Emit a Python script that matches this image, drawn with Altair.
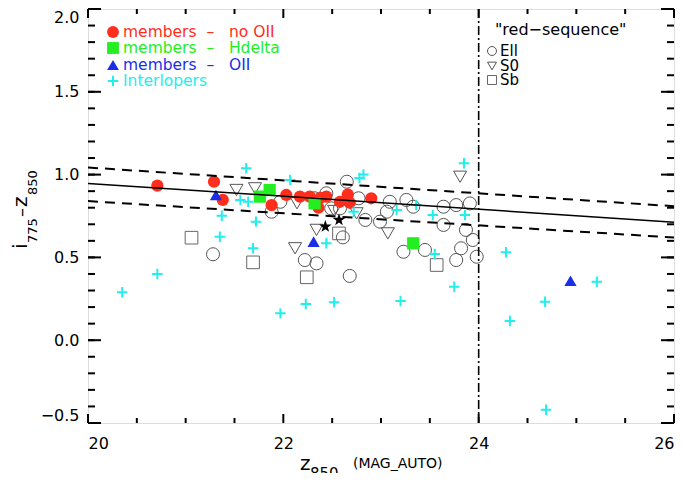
import altair as alt
import pandas as pd

# ---------------- data ----------------
red_x = [20.71, 21.29, 21.38, 21.88, 22.03, 22.17, 22.27, 22.36, 22.44, 22.58, 22.66, 22.68, 22.90, 22.38]
red_y = [0.933, 0.957, 0.847, 0.816, 0.877, 0.867, 0.867, 0.800, 0.867, 0.836, 0.880, 0.830, 0.857, 0.860]

green_x = [21.76, 21.86, 22.32, 23.33]
green_y = [0.867, 0.907, 0.827, 0.585]

blue_x = [21.31, 22.31, 24.94]
blue_y = [0.877, 0.595, 0.359]

star_x = [22.43, 22.57]
star_y = [0.686, 0.726]

ell_x = [21.28, 21.88, 21.97, 22.22, 22.34, 22.32, 22.44, 22.49, 22.58, 22.61, 22.65, 22.68,
         22.77, 22.84, 22.99, 23.09, 23.26, 23.33, 23.06, 23.64, 23.77, 23.91, 23.64, 23.87,
         23.94, 23.23, 23.45, 23.82, 23.77, 23.98]
ell_y = [0.519, 0.776, 0.836, 0.484, 0.464, 0.857, 0.887, 0.796, 0.796, 0.621, 0.957, 0.388,
         0.857, 0.726, 0.716, 0.836, 0.847, 0.806, 0.776, 0.806, 0.816, 0.826, 0.696, 0.666,
         0.605, 0.534, 0.545, 0.555, 0.484, 0.504]

s0_x = [21.52, 21.71, 22.12, 22.14, 22.34, 22.52, 22.75, 23.07, 23.81]
s0_y = [0.907, 0.917, 0.555, 0.827, 0.666, 0.780, 0.766, 0.645, 0.987]

sb_x = [21.06, 21.69, 22.24, 22.57, 23.57]
sb_y = [0.619, 0.470, 0.380, 0.645, 0.454]

int_x = [20.35, 20.71, 21.62, 21.37, 21.56, 21.64, 21.72, 21.35, 21.69, 22.07, 22.44, 22.78,
         22.82, 22.72, 23.16, 23.36, 23.53, 23.86, 23.85, 23.55, 21.97, 22.23, 22.52, 23.20,
         23.75, 24.28, 25.21, 24.68, 24.32, 24.69]
int_y = [0.289, 0.400, 1.038, 0.752, 0.847, 0.836, 0.716, 0.625, 0.555, 0.967, 0.585, 0.980,
         1.000, 0.776, 0.786, 0.816, 0.756, 0.756, 1.068, 0.520, 0.162, 0.219, 0.229, 0.237,
         0.323, 0.531, 0.353, 0.232, 0.116, -0.420]

# red-sequence fit and its +/- envelope (end points)
fit_x = [20.0, 26.0]
fit_y = [0.947, 0.713]
up_y = [1.043, 0.809]
lo_y = [0.840, 0.620]
mag_cut = [24.0]

x_major = [20, 22, 24, 26]
x_minor = [20.5, 21, 21.5, 22.5, 23, 23.5, 24.5, 25, 25.5]
y_major = [-0.5, 0.0, 0.5, 1.0, 1.5, 2.0]
y_minor = [round(-0.5 + 0.1 * i, 1) for i in range(26)]

NB = "\u00a0"
legend_left = ["members" + NB * 2 + "\u2013" + NB * 3 + "no OII",
               "members" + NB * 2 + "\u2013" + NB * 3 + "Hdelta",
               "members" + NB * 2 + "\u2013" + NB * 3 + "OII",
               "Interlopers"]
legend_right_title = "\"red\u2212sequence\""
legend_right = ["Ell", "S0", "Sb"]

# ---------------- styling ----------------
FONT = "DejaVu Sans"
RED = "#ff2d1c"
GREEN = "#22ee22"
BLUE = "#1a2ee8"
CYAN = "#22eeee"
GRAY = "#555555"
W, H = 586, 414
PLUS = "M-1,0L1,0M0,-1L0,1"
STAR = ("M0,-1L0.235,-0.324L0.951,-0.309L0.38,0.124L0.588,0.809L0,0.4"
        "L-0.588,0.809L-0.38,0.124L-0.951,-0.309L-0.235,-0.324Z")

xs = alt.Scale(domain=[20, 26], nice=False, zero=False)
ys = alt.Scale(domain=[-0.5, 2.0], nice=False, zero=False)
xaxis = alt.Axis(values=x_major, format="d", title=None, ticks=False, tickSize=0, domain=False,
                 grid=False, labelPadding=12, labelFontSize=16, labelFont=FONT,
                 labelColor="black")
yaxis = alt.Axis(values=y_major, format=".1f", title=None, ticks=False, tickSize=0, domain=False,
                 grid=False, labelPadding=9, labelFontSize=16, labelFont=FONT,
                 labelColor="black", labelFlush=True)


def pts(xv, yv):
    return pd.DataFrame({"x": xv, "y": yv})


def xy(chart):
    return chart.encode(x=alt.X("x:Q", scale=xs, axis=xaxis),
                        y=alt.Y("y:Q", scale=ys, axis=yaxis))


layers = []
# open red-sequence symbols
layers.append(xy(alt.Chart(pts(ell_x, ell_y)).mark_point(
    shape="circle", filled=False, stroke=GRAY, strokeWidth=1, size=170, opacity=1)))
layers.append(xy(alt.Chart(pts(s0_x, s0_y)).mark_point(
    shape="triangle-down", filled=False, stroke=GRAY, strokeWidth=1, size=170, opacity=1)))
layers.append(xy(alt.Chart(pts(sb_x, sb_y)).mark_point(
    shape="square", filled=False, stroke="#666666", strokeWidth=1, size=160, opacity=1)))
# members
layers.append(xy(alt.Chart(pts(red_x, red_y)).mark_point(
    shape="circle", filled=True, color=RED, size=150, opacity=1, strokeWidth=0)))
layers.append(xy(alt.Chart(pts(green_x, green_y)).mark_point(
    shape="square", filled=True, color=GREEN, size=150, opacity=1, strokeWidth=0)))
layers.append(xy(alt.Chart(pts(blue_x, blue_y)).mark_point(
    shape="triangle-up", filled=True, color=BLUE, size=150, opacity=1, strokeWidth=0)))
# interlopers
layers.append(xy(alt.Chart(pts(int_x, int_y)).mark_point(
    shape=PLUS, filled=False, stroke=CYAN, strokeWidth=2, size=110, opacity=1)))
# stars
layers.append(xy(alt.Chart(pts(star_x, star_y)).mark_point(
    shape=STAR, filled=True, color="black", size=170, opacity=1, strokeWidth=0)))

# lines
layers.append(xy(alt.Chart(pts(fit_x, fit_y)).mark_line(color="black", strokeWidth=1.5)))
layers.append(xy(alt.Chart(pts(fit_x, up_y)).mark_line(color="black", strokeWidth=2,
                                                        strokeDash=[10, 7])))
layers.append(xy(alt.Chart(pts(fit_x, lo_y)).mark_line(color="black", strokeWidth=2,
                                                        strokeDash=[10, 7])))
layers.append(alt.Chart(pd.DataFrame({"x": mag_cut})).mark_rule(
    color="black", strokeWidth=1.6, strokeDash=[9, 3, 2, 3]).encode(
    x=alt.X("x:Q", scale=xs, axis=xaxis)))


# inward ticks on all four sides
def xticks(vals, length):
    d = pd.DataFrame({"x": vals})
    enc_x = alt.X("x:Q", scale=xs, axis=xaxis)
    bot = alt.Chart(d).mark_rule(color="black", strokeWidth=2).encode(
        x=enc_x, y=alt.value(H - length), y2=alt.value(H))
    top = alt.Chart(d).mark_rule(color="black", strokeWidth=2).encode(
        x=enc_x, y=alt.value(0), y2=alt.value(length))
    return [bot, top]


def yticks(vals, length):
    d = pd.DataFrame({"y": vals})
    enc_y = alt.Y("y:Q", scale=ys, axis=yaxis)
    left = alt.Chart(d).mark_rule(color="black", strokeWidth=2).encode(
        y=enc_y, x=alt.value(0), x2=alt.value(length))
    right = alt.Chart(d).mark_rule(color="black", strokeWidth=2).encode(
        y=enc_y, x=alt.value(W - length), x2=alt.value(W))
    return [left, right]


layers += xticks(x_major, 9) + xticks(x_minor, 5)
layers += yticks(y_major, 13) + yticks(y_minor, 7)


# legends / annotations (pixel positions inside the plot area)
def txt(s, px, py, color="black", size=16, angle=0):
    return alt.Chart(pd.DataFrame({"t": [s]})).mark_text(
        align="left", baseline="alphabetic", font=FONT, fontSize=size, color=color,
        angle=angle).encode(x=alt.value(px), y=alt.value(py), text="t:N")


def sym(shape, px, py, color, filled, size, sw=1.0):
    kw = dict(shape=shape, size=size, opacity=1, filled=filled)
    if filled:
        kw.update(fill=color, strokeWidth=0)
    else:
        kw.update(stroke=color, strokeWidth=sw)
    return alt.Chart(pd.DataFrame({"t": [0]})).mark_point(**kw).encode(
        x=alt.value(px), y=alt.value(py))


left_cols = [RED, GREEN, BLUE, CYAN]
left_shapes = [("circle", True), ("square", True), ("triangle-up", True), (PLUS, False)]
sym_y = [23, 39, 56, 72]
txt_y = [28, 44, 61, 77]
for lab, col, (shp, fil), sy, ty in zip(legend_left, left_cols, left_shapes, sym_y, txt_y):
    layers.append(sym(shp, 25, sy, col, fil, 110 if shp == PLUS else 140, sw=2))
    layers.append(txt(lab, 35, ty, col, size=15.5))

layers.append(txt(legend_right_title, 407, 26))
r_shapes = [("circle", GRAY), ("triangle-down", GRAY), ("square", "#666666")]
for lab, (shp, col), sy, ty in zip(legend_right, r_shapes, [42, 57, 71], [47, 62, 76]):
    layers.append(sym(shp, 404, sy, col, False, 80))
    layers.append(txt(lab, 412, ty, size=15))

# axis titles
layers.append(txt("i", -61, 240, size=20, angle=270))
layers.append(txt("775", -51, 234, size=13, angle=270))
layers.append(txt("\u2013", -61, 208, size=18, angle=270))
layers.append(txt("z", -61, 198, size=20, angle=270))
layers.append(txt("850", -51, 186, size=13, angle=270))

layers.append(txt("z", 212, 461, size=20))
layers.append(txt("850", 222, 470, size=15))
layers.append(txt("(MAG_AUTO)", 265, 459, size=14))

chart = alt.layer(*layers).properties(
    width=W, height=H,
    autosize=alt.AutoSizeParams(type="none"),
    padding={"left": 80, "top": 1, "right": 3, "bottom": 50},
).configure_view(stroke="black", strokeWidth=2).configure(background="white")

chart.save("out.html", embed_options={"renderer": "svg", "actions": False})
